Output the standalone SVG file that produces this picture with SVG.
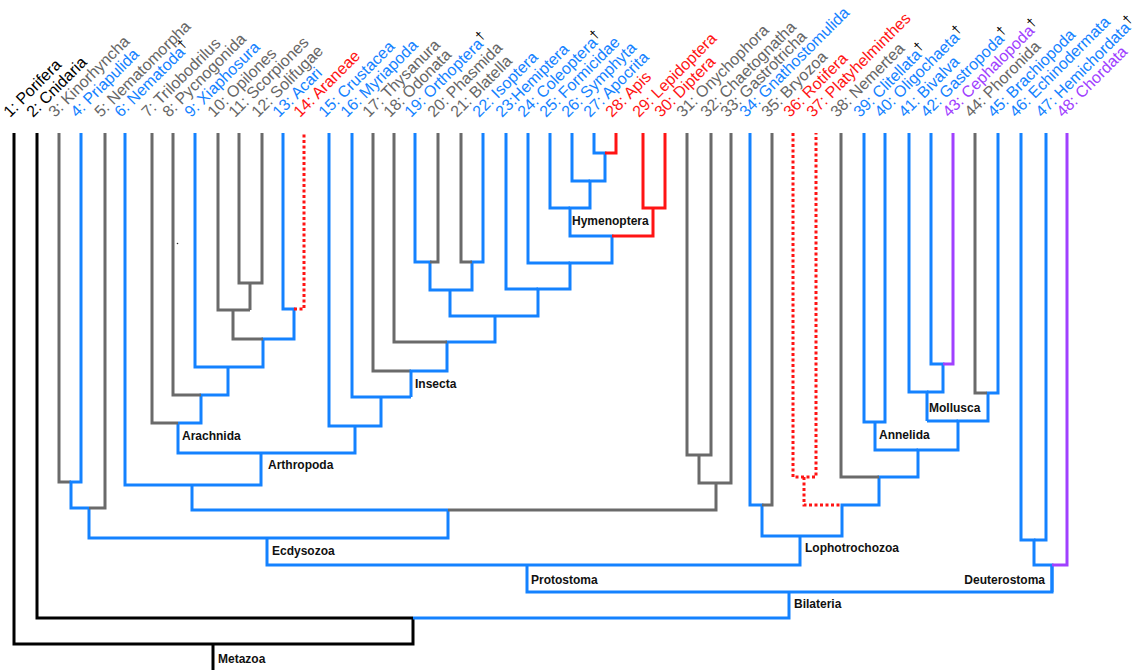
<svg xmlns="http://www.w3.org/2000/svg" width="1138" height="670" viewBox="0 0 1138 670">
<style>
.t{font-family:"Liberation Sans",Arial,sans-serif;font-size:16px}
.k{fill:#000}.g{fill:#666666}.b{fill:#1482ff}.r{fill:#ff1414}.p{fill:#a040ff}
.dg{fill:#000;font-size:13px}
.cl{font-family:"Liberation Sans",Arial,sans-serif;font-size:12px;font-weight:bold;fill:#111}
#connectors path{fill:none;stroke-width:3;stroke-linejoin:miter}
.sk{stroke:#000}.sg{stroke:#6a6a6a}.sb{stroke:#1482ff}.sr{stroke:#ff1414;stroke-dasharray:3 2.5}.srs{stroke:#ff1414}.sp{stroke:#a040ff}
</style>
<rect width="1138" height="670" fill="#fff"/>
<g id="connectors">
<path class="sk" d="M14 133V644H413V618"/>
<path class="sk" d="M37 133V618H413"/>
<path class="sk" d="M213 644V670"/>
<path class="sb" d="M413 618H789V592"/>
<path class="sb" d="M527 565V592H1052V565"/>
<path class="sb" d="M267 538V565H800V536"/>
<path class="sb" d="M89 508V538H448V510"/>
<path class="sg" d="M59 133V482H71"/>
<path class="sb" d="M81 133V482H71V508H89"/>
<path class="sg" d="M105 133V508H89"/>
<path class="sb" d="M125 133V485H261V453"/>
<path class="sb" d="M192 485V510H448"/>
<path class="sg" d="M448 510H716V483"/>
<path class="sg" d="M687 133V455H711V133"/>
<path class="sg" d="M699 455V483H731V133"/>
<path class="sb" d="M178 423V453H355V426"/>
<path class="sg" d="M152 133V423H178"/>
<path class="sb" d="M178 423H201V395H228V367"/>
<path class="sg" d="M173 133V395H201"/>
<path class="sb" d="M195 133V367H263V339H294V309H283V133"/>
<path class="sr" d="M294 309H304V133"/>
<path class="sg" d="M218 133V310H250"/>
<path class="sg" d="M239 133V283H262V133"/>
<path class="sg" d="M250 283V310"/>
<path class="sg" d="M233 310V339H263"/>
<path class="sb" d="M329 133V426H381V397"/>
<path class="sb" d="M352 133V397H411"/>
<path class="sg" d="M373 133V371H411"/>
<path class="sb" d="M411 397V371H447V342H495V316"/>
<path class="sg" d="M394 133V342H447"/>
<path class="sb" d="M415 133V262H430V290H472V262H483V133"/>
<path class="sg" d="M438 133V262H430"/>
<path class="sg" d="M461 133V262H472"/>
<path class="sb" d="M450 290V316H538V289H570V263H612V236H570V208H590V181H605V153H594V133"/>
<path class="sb" d="M506 133V289H538"/>
<path class="sb" d="M528 133V263H570"/>
<path class="sb" d="M550 133V208H570"/>
<path class="sb" d="M572 133V181H590"/>
<path class="srs" d="M605 153H616V133"/>
<path class="srs" d="M612 236H653V208"/>
<path class="srs" d="M643 133V208H665V133"/>
<path class="sb" d="M750 133V505H762V536H842V505H879V477H918V450H958V421H988V393H998V133"/>
<path class="sg" d="M772 133V505H762"/>
<path class="sg" d="M841 133V477H879"/>
<path class="sr" d="M793 133V477H816V133"/>
<path class="sr" d="M804 477V505H842"/>
<path class="sb" d="M864 133V422H885V133"/>
<path class="sb" d="M875 422V450H918"/>
<path class="sb" d="M927 421H958"/>
<path class="sb" d="M927 421V392H909V133"/>
<path class="sb" d="M927 392H943V364H931V133"/>
<path class="sp" d="M943 364H953V133"/>
<path class="sg" d="M975 133V393H987"/>
<path class="sb" d="M1052 592V565H1034V540H1021V133"/>
<path class="sb" d="M1034 540H1046V133"/>
<path class="sp" d="M1052 565H1067V133"/>
</g>
<circle cx="177.5" cy="243.5" r="0.8" fill="#333"/>
<g id="leaf-1"><text class="t k" x="10" y="118" transform="rotate(-45 10 118)">1: Porifera</text></g>
<g id="leaf-2"><text class="t k" x="33" y="118" transform="rotate(-45 33 118)">2: Cnidaria</text></g>
<g id="leaf-3"><text class="t g" x="55" y="118" transform="rotate(-45 55 118)">3: Kinorhyncha</text></g>
<g id="leaf-4"><text class="t b" x="77" y="118" transform="rotate(-45 77 118)">4: Priapulida</text></g>
<g id="leaf-5"><text class="t g" x="101" y="118" transform="rotate(-45 101 118)">5: Nematomorpha</text></g>
<g id="leaf-6"><text class="t b" x="121" y="118" transform="rotate(-45 121 118)">6: Nematoda<tspan class="dg" dy="-5">†</tspan></text></g>
<g id="leaf-7"><text class="t g" x="148" y="118" transform="rotate(-45 148 118)">7: Trilobodrilus</text></g>
<g id="leaf-8"><text class="t g" x="169" y="118" transform="rotate(-45 169 118)">8: Pycnogonida</text></g>
<g id="leaf-9"><text class="t b" x="191" y="118" transform="rotate(-45 191 118)">9: Xiaphosura</text></g>
<g id="leaf-10"><text class="t g" x="214" y="118" transform="rotate(-45 214 118)">10: Opilones</text></g>
<g id="leaf-11"><text class="t g" x="235" y="118" transform="rotate(-45 235 118)">11: Scorpiones</text></g>
<g id="leaf-12"><text class="t g" x="258" y="118" transform="rotate(-45 258 118)">12: Solifugae</text></g>
<g id="leaf-13"><text class="t b" x="279" y="118" transform="rotate(-45 279 118)">13: Acari</text></g>
<g id="leaf-14"><text class="t r" x="300" y="118" transform="rotate(-45 300 118)">14: Araneae</text></g>
<g id="leaf-15"><text class="t b" x="325" y="118" transform="rotate(-45 325 118)">15: Crustacea</text></g>
<g id="leaf-16"><text class="t b" x="347" y="118" transform="rotate(-45 347 118)">16: Myriapoda</text></g>
<g id="leaf-17"><text class="t g" x="369" y="118" transform="rotate(-45 369 118)">17: Thysanura</text></g>
<g id="leaf-18"><text class="t g" x="390" y="118" transform="rotate(-45 390 118)">18: Odonata</text></g>
<g id="leaf-19"><text class="t b" x="411" y="118" transform="rotate(-45 411 118)">19: Orthoptera<tspan class="dg" dy="-5">†</tspan></text></g>
<g id="leaf-20"><text class="t g" x="434" y="118" transform="rotate(-45 434 118)">20: Phasmida</text></g>
<g id="leaf-21"><text class="t g" x="457" y="118" transform="rotate(-45 457 118)">21: Blatella</text></g>
<g id="leaf-22"><text class="t b" x="479" y="118" transform="rotate(-45 479 118)">22: Isoptera</text></g>
<g id="leaf-23"><text class="t b" x="502" y="118" transform="rotate(-45 502 118)">23:Hemiptera</text></g>
<g id="leaf-24"><text class="t b" x="524" y="118" transform="rotate(-45 524 118)">24: Coleoptera<tspan class="dg" dy="-5">†</tspan></text></g>
<g id="leaf-25"><text class="t b" x="546" y="118" transform="rotate(-45 546 118)">25: Formicidae</text></g>
<g id="leaf-26"><text class="t b" x="568" y="118" transform="rotate(-45 568 118)">26: Symphyta</text></g>
<g id="leaf-27"><text class="t b" x="590" y="118" transform="rotate(-45 590 118)">27: Apocrita</text></g>
<g id="leaf-28"><text class="t r" x="612" y="118" transform="rotate(-45 612 118)">28: Apis</text></g>
<g id="leaf-29"><text class="t r" x="639" y="118" transform="rotate(-45 639 118)">29: Lepidoptera</text></g>
<g id="leaf-30"><text class="t r" x="661" y="118" transform="rotate(-45 661 118)">30: Diptera</text></g>
<g id="leaf-31"><text class="t g" x="683" y="118" transform="rotate(-45 683 118)">31: Onychophora</text></g>
<g id="leaf-32"><text class="t g" x="707" y="118" transform="rotate(-45 707 118)">32: Chaetognatha</text></g>
<g id="leaf-33"><text class="t g" x="727" y="118" transform="rotate(-45 727 118)">33: Gastrotricha</text></g>
<g id="leaf-34"><text class="t b" x="746" y="118" transform="rotate(-45 746 118)">34: Gnathostomulida</text></g>
<g id="leaf-35"><text class="t g" x="768" y="118" transform="rotate(-45 768 118)">35: Bryozoa</text></g>
<g id="leaf-36"><text class="t r" x="790" y="118" transform="rotate(-45 790 118)">36: Rotifera</text></g>
<g id="leaf-37"><text class="t r" x="813" y="118" transform="rotate(-45 813 118)">37: Platyhelminthes</text></g>
<g id="leaf-38"><text class="t g" x="837" y="118" transform="rotate(-45 837 118)">38: Nemertea</text></g>
<g id="leaf-39"><text class="t b" x="860" y="118" transform="rotate(-45 860 118)">39: Clitellata<tspan class="dg" dy="-5">†</tspan></text></g>
<g id="leaf-40"><text class="t b" x="881" y="118" transform="rotate(-45 881 118)">40: Oligochaeta<tspan class="dg" dy="-5">†</tspan></text></g>
<g id="leaf-41"><text class="t b" x="905" y="118" transform="rotate(-45 905 118)">41: Bivalva</text></g>
<g id="leaf-42"><text class="t b" x="927" y="118" transform="rotate(-45 927 118)">42: Gastropoda<tspan class="dg" dy="-5">†</tspan></text></g>
<g id="leaf-43"><text class="t p" x="949" y="118" transform="rotate(-45 949 118)">43: Cephalopoda<tspan class="dg" dy="-5">†</tspan></text></g>
<g id="leaf-44"><text class="t g" x="971" y="118" transform="rotate(-45 971 118)">44: Phoronida</text></g>
<g id="leaf-45"><text class="t b" x="994" y="118" transform="rotate(-45 994 118)">45: Brachiopoda</text></g>
<g id="leaf-46"><text class="t b" x="1016" y="118" transform="rotate(-45 1016 118)">46: Echinodermata</text></g>
<g id="leaf-47"><text class="t b" x="1042" y="118" transform="rotate(-45 1042 118)">47: Hemichordata<tspan class="dg" dy="-5">†</tspan></text></g>
<g id="leaf-48"><text class="t p" x="1063" y="118" transform="rotate(-45 1063 118)">48: Chordata</text></g>
<g id="clade-Hymenoptera"><text class="cl" x="572" y="225">Hymenoptera</text></g>
<g id="clade-Insecta"><text class="cl" x="415" y="388">Insecta</text></g>
<g id="clade-Arachnida"><text class="cl" x="182" y="440">Arachnida</text></g>
<g id="clade-Arthropoda"><text class="cl" x="268" y="469">Arthropoda</text></g>
<g id="clade-Ecdysozoa"><text class="cl" x="272" y="555">Ecdysozoa</text></g>
<g id="clade-Protostoma"><text class="cl" x="531" y="584">Protostoma</text></g>
<g id="clade-Metazoa"><text class="cl" x="218" y="663">Metazoa</text></g>
<g id="clade-Lophotrochozoa"><text class="cl" x="805" y="552">Lophotrochozoa</text></g>
<g id="clade-Bilateria"><text class="cl" x="794" y="608">Bilateria</text></g>
<g id="clade-Deuterostoma"><text class="cl" x="1045" y="584" text-anchor="end">Deuterostoma</text></g>
<g id="clade-Annelida"><text class="cl" x="879" y="439">Annelida</text></g>
<g id="clade-Mollusca"><text class="cl" x="929" y="412">Mollusca</text></g>
</svg>
